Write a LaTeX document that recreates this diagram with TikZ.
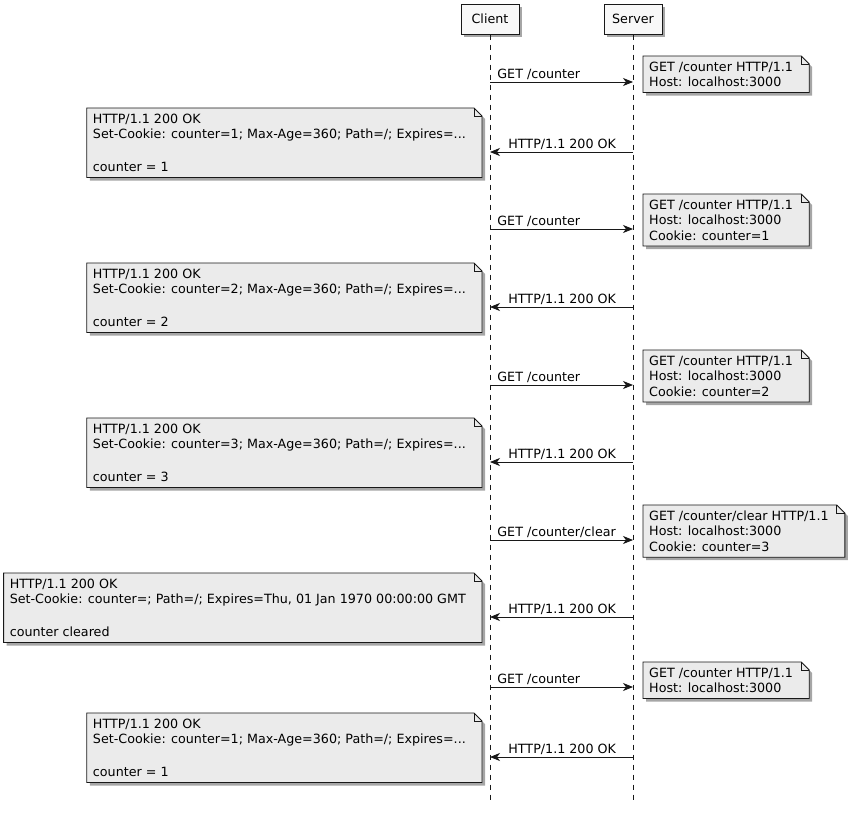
\documentclass[tikz,border=0pt]{standalone}
\usepackage{fontspec}
\setmainfont{DejaVu Sans}
\usetikzlibrary{arrows.meta,calc,shadows,backgrounds}

\definecolor{notefill}{HTML}{EBEBEB}
\definecolor{boxfill}{HTML}{F8F8F8}
\definecolor{umlline}{HTML}{181818}

\newcommand{\umlfont}{\fontsize{12.7}{15.5}\selectfont}

\tikzset{
  actor/.style={draw=umlline,fill=boxfill,line width=1pt,minimum width=58pt,
    minimum height=30pt,inner sep=0pt,font=\umlfont,
    drop shadow={shadow xshift=3pt,shadow yshift=-3pt,fill=black,opacity=0.35}},
  lifeline/.style={draw=umlline,line width=0.6pt,dash pattern=on 5pt off 5pt},
  msg/.style={draw=umlline,line width=0.8pt,-{Stealth[length=10pt,width=8pt,inset=3pt]}},
  msglabel/.style={font=\umlfont,inner sep=0pt,anchor=base west,yshift=4pt},
  notetext/.style={font=\umlfont,align=left,inner xsep=6pt,inner ysep=5.5pt},
  notebg/.style={draw=umlline,fill=notefill,line width=0.9pt,
    drop shadow={shadow xshift=3pt,shadow yshift=-3pt,fill=black,opacity=0.35}}
}

%% folded corner round a note
\newcommand{\fold}[1]{%
  \path[notebg] (#1.north west) -- ($(#1.north east)+(2,0)$) -- ($(#1.north east)+(10,-8)$)
    -- ($(#1.south east)+(10,0)$) -- (#1.south west) -- cycle;
  \draw[umlline,line width=0.8pt] ($(#1.north east)+(2,0)$) |- ($(#1.north east)+(10,-8)$);
}

\begin{document}
\begin{tikzpicture}[x=1pt,y=1pt]
      \useasboundingbox (0,0) rectangle (855,-814);

      \node[actor] (client) at (490,-19) {Client};
      \node[actor] (server) at (633,-19) {Server};
      \coordinate (cend) at (490,-803);
      \coordinate (send) at (633,-803);
      \draw[lifeline] (client.south) -- (cend);
      \draw[lifeline] (server.south) -- (send);

      %% requests
      \coordinate (c1) at (490,-82);  \coordinate (s1) at (633,-82);
      \coordinate (c3) at (490,-229); \coordinate (s3) at (633,-229);
      \coordinate (c5) at (490,-385); \coordinate (s5) at (633,-385);
      \coordinate (c7) at (490,-540); \coordinate (s7) at (633,-540);
      \coordinate (c9) at (490,-687); \coordinate (s9) at (633,-687);
      %% responses
      \coordinate (c2) at (490,-152);  \coordinate (s2) at (633,-152);
      \coordinate (c4) at (490,-307);  \coordinate (s4) at (633,-307);
      \coordinate (c6) at (490,-462);  \coordinate (s6) at (633,-462);
      \coordinate (c8) at (490,-617);  \coordinate (s8) at (633,-617);
      \coordinate (c10) at (490,-757); \coordinate (s10) at (633,-757);

      \draw[msg] (c1) -- node[msglabel,pos=0,xshift=7pt] {GET /counter} (s1);
      \draw[msg] (s2) -- node[msglabel,pos=1,xshift=18pt] {HTTP/1.1 200 OK} (c2);
      \draw[msg] (c3) -- node[msglabel,pos=0,xshift=7pt] {GET /counter} (s3);
      \draw[msg] (s4) -- node[msglabel,pos=1,xshift=18pt] {HTTP/1.1 200 OK} (c4);
      \draw[msg] (c5) -- node[msglabel,pos=0,xshift=7pt] {GET /counter} (s5);
      \draw[msg] (s6) -- node[msglabel,pos=1,xshift=18pt] {HTTP/1.1 200 OK} (c6);
      \draw[msg] (c7) -- node[msglabel,pos=0,xshift=7pt] {GET /counter/clear} (s7);
      \draw[msg] (s8) -- node[msglabel,pos=1,xshift=18pt] {HTTP/1.1 200 OK} (c8);
      \draw[msg] (c9) -- node[msglabel,pos=0,xshift=7pt] {GET /counter} (s9);
      \draw[msg] (s10) -- node[msglabel,pos=1,xshift=18pt] {HTTP/1.1 200 OK} (c10);

      %% notes on the server side
      \node[notetext,anchor=north west] (req1) at (643,-56)
        {GET /counter HTTP/1.1\\Host: localhost:3000};
      \node[notetext,anchor=north west] (req2) at (643,-194)
        {GET /counter HTTP/1.1\\Host: localhost:3000\\Cookie: counter=1};
      \node[notetext,anchor=north west] (req3) at (643,-350)
        {GET /counter HTTP/1.1\\Host: localhost:3000\\Cookie: counter=2};
      \node[notetext,anchor=north west] (req4) at (643,-505)
        {GET /counter/clear HTTP/1.1\\Host: localhost:3000\\Cookie: counter=3};
      \node[notetext,anchor=north west] (req5) at (643,-662)
        {GET /counter HTTP/1.1\\Host: localhost:3000};

      %% notes on the client side
      \node[notetext,anchor=north east] (resp1) at (472,-108)
        {HTTP/1.1 200 OK\\Set-Cookie: counter=1; Max-Age=360; Path=/; Expires=...\\[17.5pt]counter = 1};
      \node[notetext,anchor=north east] (resp2) at (472,-263)
        {HTTP/1.1 200 OK\\Set-Cookie: counter=2; Max-Age=360; Path=/; Expires=...\\[17.5pt]counter = 2};
      \node[notetext,anchor=north east] (resp3) at (472,-418)
        {HTTP/1.1 200 OK\\Set-Cookie: counter=3; Max-Age=360; Path=/; Expires=...\\[17.5pt]counter = 3};
      \node[notetext,anchor=north east] (resp4) at (472,-573)
        {HTTP/1.1 200 OK\\Set-Cookie: counter=; Path=/; Expires=Thu, 01 Jan 1970 00:00:00 GMT\\[17.5pt]counter cleared};
      \node[notetext,anchor=north east] (resp5) at (472,-713)
        {HTTP/1.1 200 OK\\Set-Cookie: counter=1; Max-Age=360; Path=/; Expires=...\\[17.5pt]counter = 1};

      \begin{scope}[on background layer]
        \foreach \n in {req1,req2,req3,req4,req5,resp1,resp2,resp3,resp4,resp5}
          {\fold{\n}}
      \end{scope}
    \end{tikzpicture}
\end{document}
